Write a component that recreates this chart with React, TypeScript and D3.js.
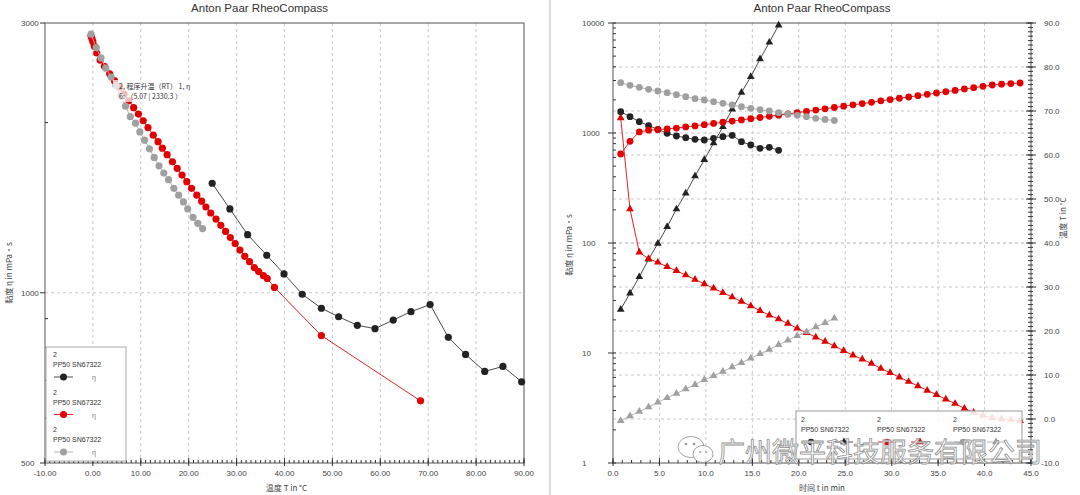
import * as d3 from "d3";
import { useEffect } from "react";

const LATIN = "'Liberation Sans', Arial, sans-serif";
const CJK = "'Noto Sans CJK SC', 'Liberation Sans', sans-serif";

// time in min, one point per minute
const time = [
  0.83, 1.83, 2.83, 3.83, 4.83, 5.83, 6.83, 7.83, 8.83, 9.83, 10.83, 11.83, 12.83, 13.83, 14.83,
  15.83, 16.83, 17.83, 18.83, 19.83, 20.83, 21.83, 22.83, 23.83, 24.83, 25.83, 26.83, 27.83,
  28.83, 29.83, 30.83, 31.83, 32.83, 33.83, 34.83, 35.83, 36.83, 37.83, 38.83, 39.83, 40.83,
  41.83, 42.83, 43.83,
];

// series 1 (black): viscosity mPa·s, temperature °C
const eta1 = [1562, 1407, 1267, 1165, 1080, 994, 939, 907, 876, 864, 895, 926, 953, 834, 778, 726, 741, 696];
const temp1 = [24.9, 28.6, 32.3, 36.3, 39.9, 43.7, 47.7, 51.3, 55.2, 58.9, 62.7, 66.4, 70.4, 74.2, 77.8, 81.8, 85.6, 89.5];

// series 2 (red)
const eta2 = [
  644, 840, 1022, 1060, 1072, 1090, 1108, 1135, 1160, 1190, 1222, 1252, 1284, 1316, 1350, 1384,
  1418, 1452, 1488, 1530, 1572, 1615, 1660, 1705, 1755, 1802, 1850, 1900, 1960, 2015, 2070, 2125,
  2185, 2245, 2310, 2372, 2440, 2515, 2580, 2655, 2730, 2780, 2815, 2848,
];
const temp2 = [
  68.4, 47.7, 37.9, 36.4, 35.6, 34.6, 33.7, 32.7, 31.7, 30.7, 29.7, 28.7, 27.7, 26.7, 25.7, 24.6,
  23.6, 22.7, 21.7, 20.6, 19.6, 18.6, 17.6, 16.6, 15.5, 14.5, 13.6, 12.6, 11.5, 10.5, 9.5, 8.5,
  7.5, 6.5, 5.5, 4.5, 3.5, 2.4, 1.5, 0.8, 0.3, 0.0, -0.2, -0.4,
];

// series 3 (gray)
const eta3 = [
  2866, 2714, 2603, 2496, 2408, 2325, 2230, 2138, 2050, 1995, 1925, 1862, 1797, 1735, 1677, 1628,
  1585, 1530, 1488, 1448, 1407, 1360, 1327, 1299,
];
const temp3 = [
  -0.4, 0.7, 1.7, 2.7, 3.8, 4.8, 5.8, 6.8, 7.8, 8.9, 9.8, 10.8, 11.8, 12.8, 13.8, 14.8, 15.8, 16.9,
  17.9, 18.9, 19.8, 20.9, 21.9, 22.9,
];

const tempTicks = [-10, 0, 10, 20, 30, 40, 50, 60, 70, 80, 90];
const etaTicksLeft = [500, 1000, 3000];
const etaMinorLeft = [600, 700, 800, 900, 2000];
const timeTicks = [0, 5, 10, 15, 20, 25, 30, 35, 40, 45];
const etaTicksRight = [1, 10, 100, 1000, 10000];

const TITLE = "Anton Paar RheoCompass";
const legendName = "2";
const legendSample = "PP50 SN67322";
const annotation = ["2, 程序升温（RT） 1, η", "6: （5.07 | 2330.3 ）"];
const watermark = "广州微平科技服务有限公司";

const SERIES = [
  { eta: eta1, temp: temp1, fill: "#232323", line: "#4a4a4a" },
  { eta: eta2, temp: temp2, fill: "#e30000", line: "#e02424" },
  { eta: eta3, temp: temp3, fill: "#a0a0a0", line: "#b4b4b4" },
];

const LEFT = { l: 45, r: 524, t: 23, b: 463 };
const RIGHT = { l: 613, r: 1031, t: 23, b: 463 };

const tri = d3.symbol(d3.symbolTriangle, 26)() as string;

const LeftChart = () => {
  const x = d3.scaleLinear().domain([-10, 90]).range([LEFT.l, LEFT.r]);
  const y = d3.scaleLog().domain([500, 3000]).range([LEFT.b, LEFT.t]);
  const line = d3.line<[number, number]>();
  const minorX = d3.range(-10, 91, 1);

  return (
    <g>
      <text x={(LEFT.l + LEFT.r) / 2 - 25} y={12} textAnchor="middle" fontFamily={LATIN} fontSize={11.5} fill="#333">
        {TITLE}
      </text>
      {/* grid */}
      {tempTicks.slice(1, -1).map((t) => (
        <line key={t} x1={x(t)} x2={x(t)} y1={LEFT.t} y2={LEFT.b} stroke="#c8c8c8" strokeDasharray="3,3" />
      ))}
      <line x1={LEFT.l} x2={LEFT.r} y1={y(1000)} y2={y(1000)} stroke="#c8c8c8" strokeDasharray="3,3" />
      {/* frame */}
      <rect x={LEFT.l} y={LEFT.t} width={LEFT.r - LEFT.l} height={LEFT.b - LEFT.t} fill="none" stroke="#555" />
      {/* x axis */}
      {minorX.map((t) => (
        <line key={t} x1={x(t)} x2={x(t)} y1={LEFT.b} y2={LEFT.b - 3} stroke="#333" />
      ))}
      {tempTicks.map((t) => (
        <g key={t}>
          <line x1={x(t)} x2={x(t)} y1={LEFT.b - 5} y2={LEFT.b + 3} stroke="#333" />
          <text x={x(t)} y={LEFT.b + 13} textAnchor="middle" fontFamily={LATIN} fontSize={8} fill="#444">
            {t.toFixed(2)}
          </text>
        </g>
      ))}
      <text x={(LEFT.l + LEFT.r) / 2 + 2} y={491} textAnchor="middle" fontFamily={CJK} fontSize={8} fill="#444">
        温度 T in °C
      </text>
      {/* y axis */}
      {etaTicksLeft.map((v) => (
        <g key={v}>
          <line x1={LEFT.l - 5} x2={LEFT.l} y1={y(v)} y2={y(v)} stroke="#333" />
          <text x={21} y={y(v) + 3} fontFamily={LATIN} fontSize={8} fill="#444">
            {v}
          </text>
        </g>
      ))}
      {etaMinorLeft.map((v) => (
        <line key={v} x1={LEFT.l} x2={LEFT.l + 3} y1={y(v)} y2={y(v)} stroke="#333" />
      ))}
      <text
        transform={`translate(12,${(LEFT.t + LEFT.b) / 2 + 30}) rotate(-90)`}
        textAnchor="middle"
        fontFamily={CJK}
        fontSize={8}
        fill="#444"
      >
        黏度 η in mPa·s
      </text>
      {/* data */}
      {SERIES.map((s, si) => {
        const pts = s.temp.map((t, i) => [x(t), y(s.eta[i])] as [number, number]);
        return (
          <g key={si}>
            <path d={line(pts) ?? ""} fill="none" stroke={s.line} strokeWidth={1} />
            {pts.map((p, i) => (
              <circle key={i} cx={p[0]} cy={p[1]} r={3.6} fill={s.fill} />
            ))}
          </g>
        );
      })}
      {/* tooltip */}
      <rect x={113} y={80} width={86} height={22} fill="#fff" fillOpacity={0.72} />
      <text x={119} y={89} fontFamily={CJK} fontSize={7} fill="#333">
        {annotation[0]}
      </text>
      <text x={119} y={99} fontFamily={CJK} fontSize={7} fill="#333">
        {annotation[1]}
      </text>
      {/* legend */}
      <rect x={LEFT.l + 1} y={347} width={80} height={114} fill="#fff" stroke="#aaa" />
      {SERIES.map((s, si) => {
        const top = 357 + si * 37.5;
        return (
          <g key={si}>
            <text x={53} y={top} fontFamily={LATIN} fontSize={7} fill="#333">
              {legendName}
            </text>
            <text x={53} y={top + 10} fontFamily={LATIN} fontSize={7} fill="#333">
              {legendSample}
            </text>
            <line x1={54} x2={73} y1={top + 20} y2={top + 20} stroke={s.line} />
            <circle cx={63.5} cy={top + 20} r={3.5} fill={s.fill} />
            <text x={92} y={top + 23} fontFamily={LATIN} fontSize={7} fill="#777">
              η
            </text>
          </g>
        );
      })}
    </g>
  );
};

const RightChart = () => {
  const x = d3.scaleLinear().domain([0, 45]).range([RIGHT.l, RIGHT.r]);
  const yE = d3.scaleLog().domain([1, 10000]).range([RIGHT.b, RIGHT.t]);
  const yT = d3.scaleLinear().domain([-10, 90]).range([RIGHT.b, RIGHT.t]);
  const line = d3.line<[number, number]>();
  const minorX = d3.range(0, 45.1, 1);
  const minorT = d3.range(-10, 90.1, 1);
  const minorE: number[] = [];
  [1, 10, 100, 1000].forEach((d) => [2, 3, 4, 5, 6, 7, 8, 9].forEach((m) => minorE.push(d * m)));

  return (
    <g>
      <defs>
        <clipPath id="rclip">
          <rect x={RIGHT.l} y={RIGHT.t - 4} width={RIGHT.r - RIGHT.l} height={RIGHT.b - RIGHT.t + 4} />
        </clipPath>
      </defs>
      <text x={(RIGHT.l + RIGHT.r) / 2} y={12} textAnchor="middle" fontFamily={LATIN} fontSize={11.5} fill="#333">
        {TITLE}
      </text>
      {/* grid */}
      {timeTicks.slice(1, -1).map((t) => (
        <line key={t} x1={x(t)} x2={x(t)} y1={RIGHT.t} y2={RIGHT.b} stroke="#c8c8c8" strokeDasharray="3,3" />
      ))}
      {tempTicks.slice(1, -1).map((t) => (
        <line key={"t" + t} x1={RIGHT.l} x2={RIGHT.r} y1={yT(t)} y2={yT(t)} stroke="#c8c8c8" strokeDasharray="3,3" />
      ))}
      {etaTicksRight.slice(1, -1).map((v) => (
        <line key={"e" + v} x1={RIGHT.l} x2={RIGHT.r} y1={yE(v)} y2={yE(v)} stroke="#c8c8c8" strokeDasharray="3,3" />
      ))}
      <rect x={RIGHT.l} y={RIGHT.t} width={RIGHT.r - RIGHT.l} height={RIGHT.b - RIGHT.t} fill="none" stroke="#555" />
      {/* x axis */}
      {minorX.map((t) => (
        <line key={t} x1={x(t)} x2={x(t)} y1={RIGHT.b} y2={RIGHT.b - 3} stroke="#333" />
      ))}
      {timeTicks.map((t) => (
        <g key={t}>
          <line x1={x(t)} x2={x(t)} y1={RIGHT.b - 5} y2={RIGHT.b + 3} stroke="#333" />
          <text x={x(t)} y={RIGHT.b + 13} textAnchor="middle" fontFamily={LATIN} fontSize={8} fill="#444">
            {t.toFixed(1)}
          </text>
        </g>
      ))}
      <text x={(RIGHT.l + RIGHT.r) / 2} y={491} textAnchor="middle" fontFamily={CJK} fontSize={8} fill="#444">
        时间 t in min
      </text>
      {/* left y axis */}
      {etaTicksRight.map((v) => (
        <g key={v}>
          <line x1={RIGHT.l - 5} x2={RIGHT.l + 3} y1={yE(v)} y2={yE(v)} stroke="#333" />
          <text x={582} y={yE(v) + 3} fontFamily={LATIN} fontSize={8} fill="#444">
            {v}
          </text>
        </g>
      ))}
      {minorE.map((v) => (
        <line key={v} x1={RIGHT.l} x2={RIGHT.l + 3} y1={yE(v)} y2={yE(v)} stroke="#333" />
      ))}
      <text
        transform={`translate(572,${(RIGHT.t + RIGHT.b) / 2 + 2}) rotate(-90)`}
        textAnchor="middle"
        fontFamily={CJK}
        fontSize={8}
        fill="#444"
      >
        黏度 η in mPa·s
      </text>
      {/* right y axis */}
      {minorT.map((t) => (
        <line key={t} x1={RIGHT.r - 3} x2={RIGHT.r + 2} y1={yT(t)} y2={yT(t)} stroke="#333" />
      ))}
      {tempTicks.map((t) => (
        <g key={t}>
          <line x1={RIGHT.r - 5} x2={RIGHT.r + 5} y1={yT(t)} y2={yT(t)} stroke="#333" />
          <text x={t < 0 ? 1041 : 1044} y={yT(t) + 3} fontFamily={LATIN} fontSize={8} fill="#444">
            {t.toFixed(1)}
          </text>
        </g>
      ))}
      <text
        transform={`translate(1066,${(RIGHT.t + RIGHT.b) / 2 - 25}) rotate(-90)`}
        textAnchor="middle"
        fontFamily={CJK}
        fontSize={8}
        fill="#444"
      >
        温度 T in °C
      </text>
      {/* data */}
      <g clipPath="url(#rclip)">
        {SERIES.map((s, si) => {
          const ptsE = s.eta.map((v, i) => [x(time[i]), yE(v)] as [number, number]);
          const ptsT = s.temp.map((v, i) => [x(time[i]), yT(v)] as [number, number]);
          return (
            <g key={si}>
              <path d={line(ptsE) ?? ""} fill="none" stroke={s.line} />
              {ptsE.map((p, i) => (
                <circle key={i} cx={p[0]} cy={p[1]} r={3.4} fill={s.fill} />
              ))}
              <path d={line(ptsT) ?? ""} fill="none" stroke={s.line} />
              {ptsT.map((p, i) => (
                <path key={i} d={tri} transform={`translate(${p[0]},${p[1]})`} fill={s.fill} />
              ))}
            </g>
          );
        })}
      </g>
      {/* legend */}
      <rect x={796} y={411} width={226} height={48} fill="#fff" fillOpacity={0.88} stroke="#999" />
      {SERIES.map((s, si) => {
        const lx = 801 + si * 76;
        return (
          <g key={si}>
            <text x={lx} y={422} fontFamily={LATIN} fontSize={7} fill="#333">
              {legendName}
            </text>
            <text x={lx} y={432} fontFamily={LATIN} fontSize={7} fill="#333">
              {legendSample}
            </text>
            <line x1={lx + 1} x2={lx + 19} y1={442} y2={442} stroke={s.line} />
            <circle cx={lx + 10} cy={442} r={3.2} fill={s.fill} />
            <line x1={lx + 34} x2={lx + 52} y1={442} y2={442} stroke={s.line} />
            <path d={tri} transform={`translate(${lx + 43},442)`} fill={s.fill} />
          </g>
        );
      })}
    </g>
  );
};

const Watermark = () => (
  <g>
    <ellipse cx={691} cy={447} rx={13} ry={10.5} fill="#fff" fillOpacity={0.85} stroke="#9a9a9a" strokeWidth={0.9} />
    <ellipse cx={703} cy={454} rx={10} ry={8.5} fill="#fff" fillOpacity={0.85} stroke="#9a9a9a" strokeWidth={0.9} />
    <circle cx={686} cy={444} r={1.3} fill="#9a9a9a" />
    <circle cx={694} cy={444} r={1.3} fill="#9a9a9a" />
    <circle cx={700} cy={452} r={1} fill="#9a9a9a" />
    <circle cx={706} cy={452} r={1} fill="#9a9a9a" />
    <text
      x={718}
      y={462}
      fontFamily={CJK}
      fontSize={27}
      fill="#fff"
      fillOpacity={0.85}
      stroke="#8f8f8f"
      strokeWidth={0.8}
    >
      {watermark}
    </text>
  </g>
);

export default function App() {
  useEffect(() => {
    document.body.style.margin = "0";
  }, []);
  return (
    <svg
      width={1080}
      height={495}
      style={{ position: "absolute", left: 0, top: 0, background: "#fff" }}
    >
      <rect width={1080} height={495} fill="#fff" />
      <LeftChart />
      <line x1={550} x2={550} y1={0} y2={495} stroke="#dcdcdc" strokeWidth={2} />
      <RightChart />
      <Watermark />
    </svg>
  );
}
